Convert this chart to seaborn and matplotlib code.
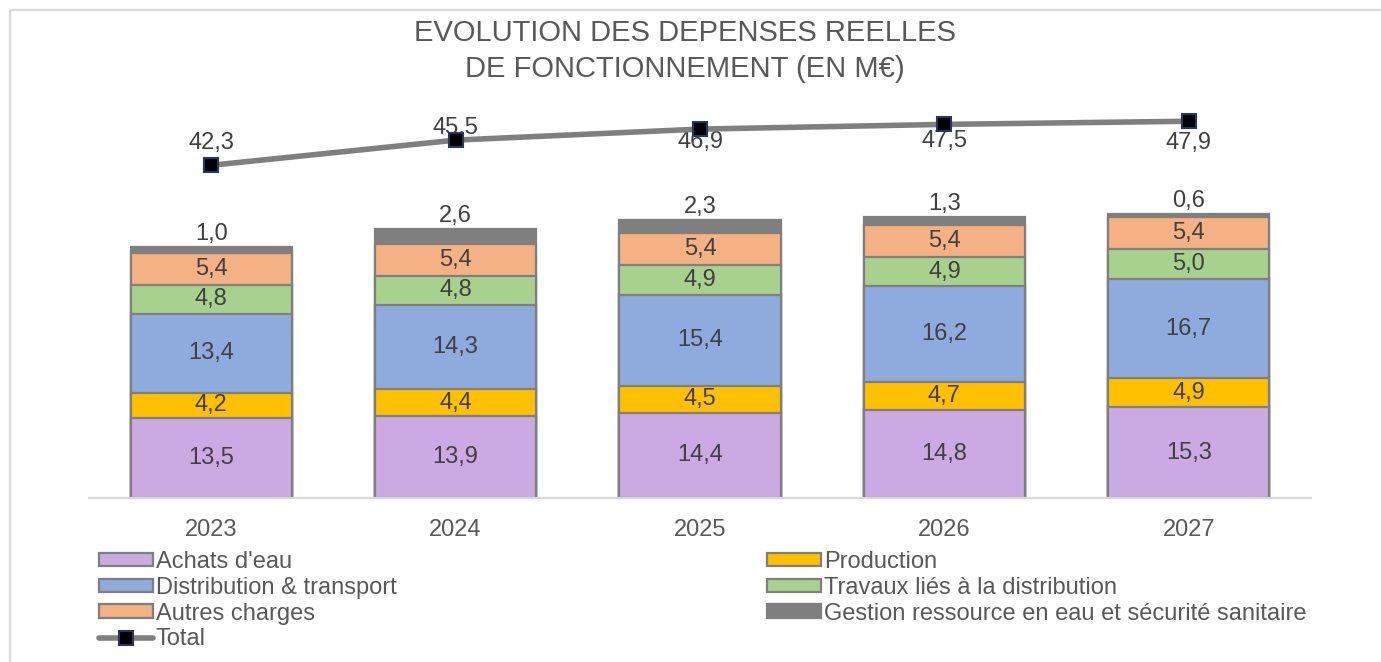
import numpy as np
import pandas as pd
import matplotlib
matplotlib.use("Agg")
import matplotlib.pyplot as plt
import seaborn as sns
from matplotlib.patches import Patch, Rectangle
from matplotlib.lines import Line2D

# ---- data ----
years = ["2023", "2024", "2025", "2026", "2027"]
achats = [13.5, 13.9, 14.4, 14.8, 15.3]
production = [4.2, 4.4, 4.5, 4.7, 4.9]
distribution = [13.4, 14.3, 15.4, 16.2, 16.7]
travaux = [4.8, 4.8, 4.9, 4.9, 5.0]
autres = [5.4, 5.4, 5.4, 5.4, 5.4]
gestion = [1.0, 2.6, 2.3, 1.3, 0.6]
total = [42.3, 45.5, 46.9, 47.5, 47.9]

series_names = ["Achats d'eau", "Production", "Distribution & transport",
                "Travaux liés à la distribution", "Autres charges",
                "Gestion ressource en eau et sécurité sanitaire"]
series_vals = [achats, production, distribution, travaux, autres, gestion]
series_colors = ["#CBA9E3", "#FFC000", "#8FAADC", "#A9D18E", "#F4B183", "#7F7F7F"]
total_label_dy_px = [-22, -12, 13, 17, 22]

sns.set_style("white")
plt.rcParams['font.family'] = ['Liberation Sans', 'DejaVu Sans']

W, H = 1381, 662
fig = plt.figure(figsize=(W / 100, H / 100), dpi=100)
ax = fig.add_axes([89 / W, 1 - 498 / H, (1311 - 89) / W, 398 / H])

edge = "#7F7F7F"
lw = 1.6
txt_col = "#404040"
fs = 17

df = pd.DataFrame({"year": years})
vals = np.array(series_vals)
cum = np.cumsum(vals, axis=0)

# draw from top cumulative down so segments stack visually
for i in range(len(series_names) - 1, -1, -1):
    df["v"] = cum[i]
    sns.barplot(data=df, x="year", y="v", color=series_colors[i], saturation=1,
                width=0.66, edgecolor=edge, linewidth=lw, ax=ax, order=years)

# labels inside segments
for i in range(len(series_names) - 1):
    for j in range(len(years)):
        yc = cum[i][j] - vals[i][j] / 2
        ax.text(j, yc, f"{vals[i][j]:.1f}".replace(".", ","), ha="center", va="center",
                fontsize=fs, color=txt_col)
# top series labels above bars
for j in range(len(years)):
    ax.annotate(f"{vals[-1][j]:.1f}".replace(".", ","), (j, cum[-1][j]),
                xytext=(0, 13 * 0.72), textcoords="offset points",
                ha="center", va="center", fontsize=fs, color=txt_col)

ax.set_xlim(-0.5, len(years) - 0.5)
ax.set_ylim(0, 67.1)
ax.set_xlabel("")
ax.set_ylabel("")
ax.set_yticks([])
for s in ["top", "right", "left"]:
    ax.spines[s].set_visible(False)
ax.spines["bottom"].set_color("#D9D9D9")
ax.spines["bottom"].set_linewidth(1.6)
ax.tick_params(axis="x", length=0, pad=15, labelsize=fs, labelcolor="#595959")

# total line on secondary axis
ax2 = ax.twinx()
xpos = np.arange(len(years))
line_kw = dict(color="#7F7F7F", linewidth=4, marker="s", markersize=10,
               markerfacecolor="black", markeredgecolor="#1F3864", markeredgewidth=1.5)
sns.lineplot(x=xpos, y=total, ax=ax2, zorder=5, **line_kw)
ax2.set_ylim(0, 50.6)
ax2.set_yticks([])
ax2.set_ylabel("")
for s in ["top", "right", "left", "bottom"]:
    ax2.spines[s].set_visible(False)
for j in range(len(years)):
    ax2.annotate(f"{total[j]:.1f}".replace(".", ","), (j, total[j]),
                 xytext=(0, -total_label_dy_px[j] * 0.72), textcoords="offset points",
                 ha="center", va="center", fontsize=fs, color=txt_col)
ax2.set_xlim(-0.5, len(years) - 0.5)

# title
fig.text(685 / W, 1 - 33 / H, "EVOLUTION DES DEPENSES REELLES", ha="center", va="center",
         fontsize=21, color="#595959")
fig.text(685 / W, 1 - 69 / H, "DE FONCTIONNEMENT (EN M€)", ha="center", va="center",
         fontsize=21, color="#595959")

# legend
patches = [Patch(facecolor=c, edgecolor=edge, linewidth=lw, label=n)
           for n, c in zip(series_names, series_colors)]
patches[-1] = Patch(facecolor=series_colors[-1], edgecolor=series_colors[-1],
                    linewidth=lw, label=series_names[-1])
tot_handle = Line2D([], [], label="Total", **line_kw)
col1 = [patches[0], patches[2], patches[4], tot_handle]
col2 = [patches[1], patches[3], patches[5]]
leg_kw = dict(frameon=False, fontsize=fs, handlelength=2.3, handleheight=0.5,
              handletextpad=0.1, labelspacing=0.16, borderpad=0, borderaxespad=0,
              labelcolor="#595959", loc="upper left")
l1 = fig.legend(handles=col1, bbox_to_anchor=(99 / W, 1 - 551 / H), **leg_kw)
l2 = fig.legend(handles=col2, bbox_to_anchor=(767 / W, 1 - 551 / H), **leg_kw)

# outer frame
fig.patches.append(Rectangle((10 / W, -0.05), 1.1, 1 - 10 / H + 0.05,
                             transform=fig.transFigure, fill=False,
                             edgecolor="#D9D9D9", linewidth=1.6))

fig.savefig("out.png", dpi=100)
